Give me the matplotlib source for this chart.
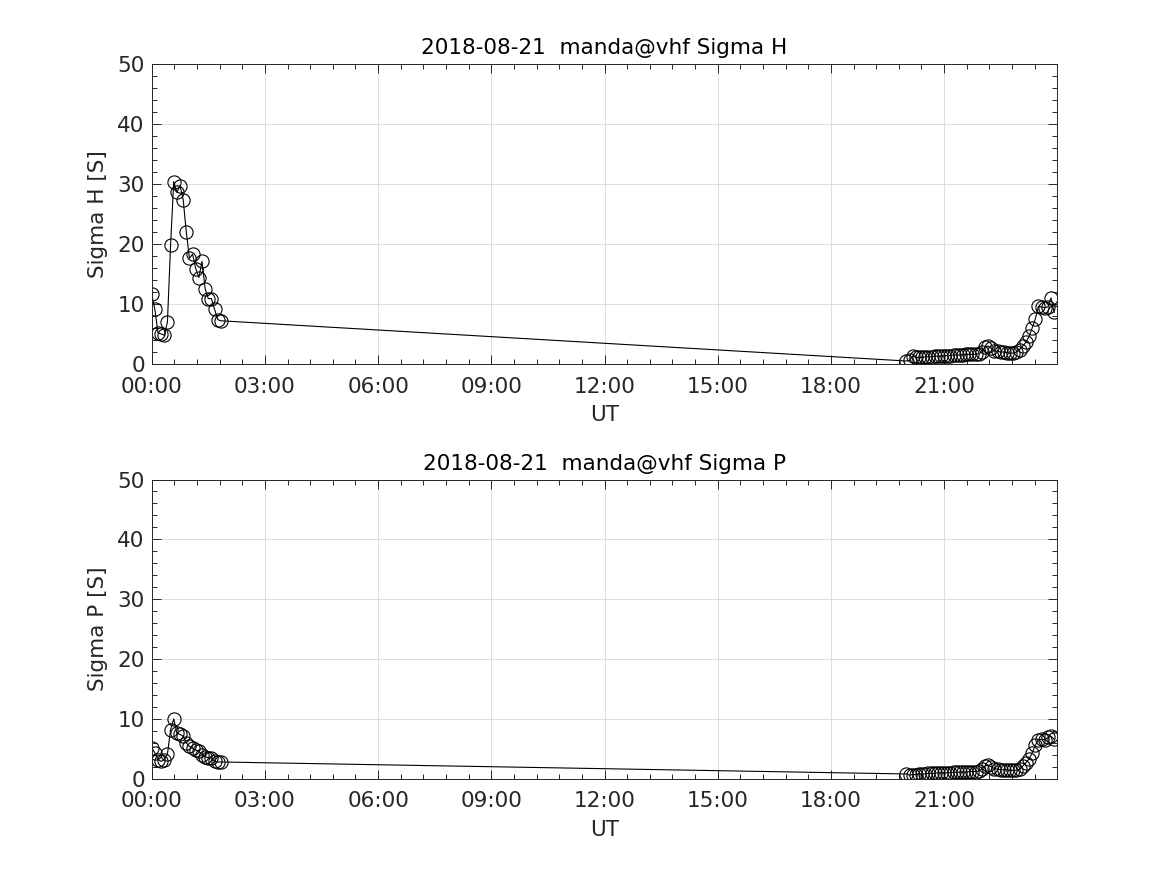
import numpy as np
import matplotlib
matplotlib.use('Agg')
import matplotlib.pyplot as plt
from matplotlib.ticker import MultipleLocator, FuncFormatter

# 5-minute samples, time in hours UT
# early morning block (00:00 - ~01:55)
sigma_h_am = [11.6, 9.1, 5.2, 5.0, 4.8, 7.0, 19.8, 30.4, 28.6, 29.7, 27.4, 22.0,
              17.6, 18.3, 15.9, 14.4, 17.1, 12.5, 10.9, 10.9, 9.1, 7.4, 7.2]
sigma_p_am = [5.2, 4.3, 3.2, 2.9, 3.2, 4.1, 8.2, 10.0, 7.6, 7.4, 7.1, 6.0,
              5.4, 5.1, 4.8, 4.6, 4.0, 3.7, 3.5, 3.5, 2.9, 2.8, 2.8]
# evening block (20:00 - 23:55)
sigma_h_pm = [0.5, 0.6, 1.3, 1.1, 1.1, 1.1, 1.2, 1.2, 1.2, 1.3, 1.3, 1.3,
              1.4, 1.4, 1.4, 1.5, 1.5, 1.5, 1.5, 1.6, 1.6, 1.6, 1.6, 1.7,
              2.0, 2.8, 3.0, 2.6, 2.2, 2.1, 2.0, 2.0, 1.9, 1.8, 1.8, 2.0,
              2.4, 3.0, 3.6, 4.6, 6.0, 7.5, 9.6, 9.5, 9.4, 9.5, 11.0, 8.6]
sigma_p_pm = [0.8, 0.6, 0.7, 0.7, 0.8, 0.8, 0.8, 0.9, 0.9, 0.9, 1.0, 1.0,
              1.0, 1.0, 1.0, 1.1, 1.1, 1.1, 1.1, 1.1, 1.2, 1.2, 1.2, 1.3,
              1.6, 2.1, 2.3, 2.0, 1.7, 1.6, 1.5, 1.5, 1.5, 1.4, 1.4, 1.4,
              1.6, 2.1, 2.7, 3.3, 4.3, 5.6, 6.5, 6.6, 6.5, 6.9, 7.1, 6.6]

t_am = np.arange(len(sigma_h_am)) / 12.0
t_pm = 20.0 + np.arange(len(sigma_h_pm)) / 12.0
t = np.concatenate([t_am, t_pm])
sigma_h = np.concatenate([sigma_h_am, sigma_h_pm])
sigma_p = np.concatenate([sigma_p_am, sigma_p_pm])

titles = ['2018-08-21  manda@vhf Sigma H', '2018-08-21  manda@vhf Sigma P']
ylabels = ['Sigma H [S]', 'Sigma P [S]']

fig = plt.figure(figsize=(11.67, 8.75), dpi=100, facecolor='w')
positions = [[0.130, 0.584, 0.776, 0.343], [0.130, 0.110, 0.776, 0.342]]
txtcol = '#262626'
fs = 15.5

for k, y in enumerate([sigma_h, sigma_p]):
    ax = fig.add_axes(positions[k])
    ax.plot(t, y, '-', color='k', lw=0.8, marker='o', mfc='none', mec='k',
            ms=9.5, mew=0.8)
    ax.set_xlim(0, 24)
    ax.set_ylim(0, 50)
    ax.xaxis.set_minor_locator(MultipleLocator(0.6))
    ax.yaxis.set_major_locator(MultipleLocator(10))
    ax.yaxis.set_minor_locator(MultipleLocator(2))
    # last label 24:00 not shown
    ax.set_xticks(np.arange(0, 24, 3))
    ax.xaxis.set_major_formatter(FuncFormatter(lambda v, p: '%02d:00' % int(round(v))))
    ax.tick_params(which='both', direction='in', top=True, right=True,
                   colors='#262626', labelcolor=txtcol, labelsize=fs)
    ax.tick_params(which='major', length=6.5, width=0.7)
    ax.tick_params(which='minor', length=3.5, width=0.7)
    ax.tick_params(axis='x', which='major', pad=9)
    ax.tick_params(axis='y', which='major', pad=5)
    ax.grid(True, which='major', color='#dcdcdc', lw=0.7)
    ax.set_axisbelow(True)
    for s in ax.spines.values():
        s.set_color('#262626')
        s.set_linewidth(0.7)
    ax.set_title(titles[k], fontsize=fs, color='k', pad=7)
    ax.set_xlabel('UT', fontsize=fs, color=txtcol, labelpad=6)
    ax.set_ylabel(ylabels[k], fontsize=fs, color=txtcol, labelpad=7)

fig.savefig('out.png', dpi=100)
